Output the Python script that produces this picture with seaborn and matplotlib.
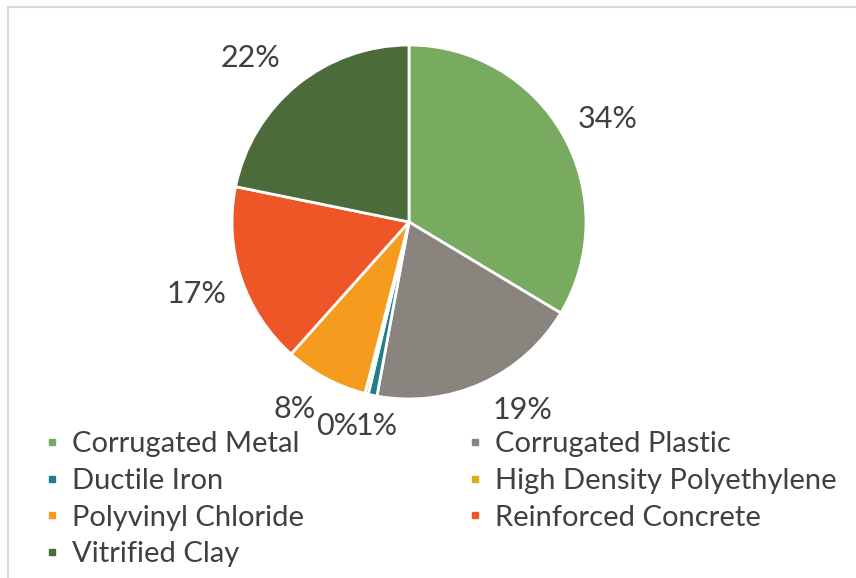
import matplotlib
matplotlib.use("Agg")
import matplotlib.pyplot as plt
import seaborn as sns
from matplotlib.lines import Line2D
from matplotlib.patches import Rectangle

sns.set_theme(style="white")
plt.rcParams['font.family'] = ['Lato', 'DejaVu Sans']

categories = ["Corrugated Metal", "Corrugated Plastic", "Ductile Iron",
              "High Density Polyethylene", "Polyvinyl Chloride",
              "Reinforced Concrete", "Vitrified Clay"]
shares = [33.6, 19.3, 0.8, 0.3, 7.6, 16.6, 21.8]
colors = ["#78AA60", "#8A847F", "#1E7E8A", "#D8AE1E", "#F59C1E", "#EE5527", "#4B6C3A"]
# label positions (Excel "best fit" placement), in pie-radius units
label_pos = [(1.124, 0.582), (0.644, -1.062), (-0.181, -1.153), (-0.407, -1.153),
             (-0.644, -1.056), (-1.198, -0.407), (-0.893, 0.927)]

W, H = 856, 578
fig = plt.figure(figsize=(W / 100, H / 100), dpi=100)
fig.patch.set_facecolor("white")

# outer light border
fig.add_artist(Rectangle((8 / W, -0.1), 1.2, (H - 7) / H + 0.1, transform=fig.transFigure,
                         fill=False, edgecolor="#D9D9D9", linewidth=1.5))

cx, cy, r = 409, 222, 177
ax = fig.add_axes([(cx - r) / W, (H - cy - r) / H, 2 * r / W, 2 * r / H])
wedges, texts, autotexts = ax.pie(
    shares, colors=colors, startangle=90, counterclock=False,
    autopct="%.0f%%", pctdistance=1.27,
    wedgeprops=dict(edgecolor="white", linewidth=2),
    textprops=dict(fontsize=22, color="#404040"))
for t, p in zip(autotexts, label_pos):
    t.set_position(p)
ax.set_xlim(-1, 1)
ax.set_ylim(-1, 1)
ax.set_aspect("equal")
ax.axis("off")

def make_legend(idx, x_px):
    handles = [Line2D([], [], marker="s", linestyle="none", markersize=5,
                      markerfacecolor=colors[i], markeredgecolor=colors[i]) for i in idx]
    labels = [categories[i] for i in idx]
    return fig.legend(handles, labels, loc="upper left",
                      bbox_to_anchor=(x_px / W, 1 - 431 / H),
                      ncol=1, frameon=False, fontsize=21, labelcolor="#404040",
                      handlelength=0.6, handletextpad=0.41,
                      labelspacing=0.37, borderaxespad=0, borderpad=0)

make_legend([0, 2, 4, 6], 43)
make_legend([1, 3, 5], 466)

fig.savefig("out.png", dpi=100)
